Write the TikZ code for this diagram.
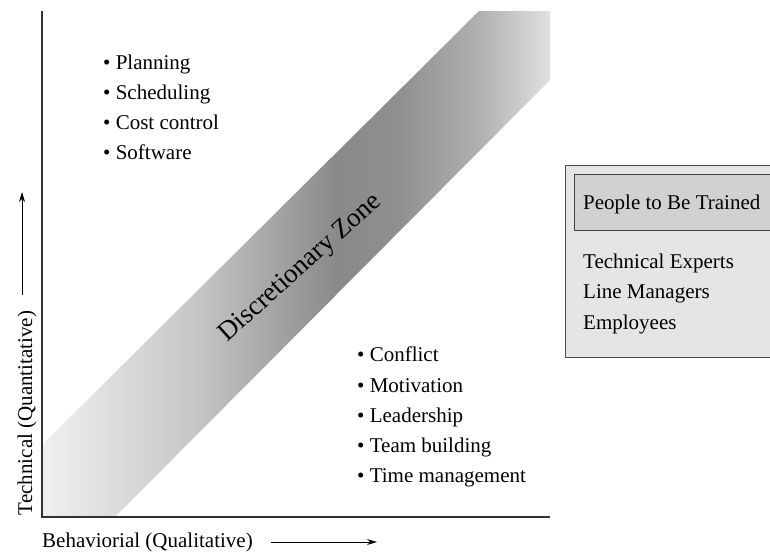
\documentclass[tikz,border=0pt]{standalone}
\usepackage{fontspec}
\setmainfont{Liberation Serif}
\usetikzlibrary{arrows.meta,positioning}

\pgfdeclarehorizontalshading{zoneshade}{100bp}{color(0bp)=(black!6); color(25bp)=(black!6); color(40bp)=(black!22); color(54bp)=(black!46); color(60bp)=(black!44); color(68bp)=(black!31); color(75bp)=(black!12); color(100bp)=(black!12)}

\begin{document}
\begin{tikzpicture}[x=1pt, y=-1pt, >={Stealth[length=10pt,width=6pt]},
  every node/.style={font=\fontsize{21}{25}\selectfont, inner sep=0pt},
  item/.style={anchor=base west},
  axis/.style={draw=black!80, line width=1.6pt},
  outerbox/.style={draw=black!70, fill=black!10, line width=1.2pt, anchor=north west},
  headbox/.style={draw=black!75, fill=black!18, line width=1.2pt, anchor=north west}]

  \useasboundingbox (0,0) rectangle (770,552);

  % ---- Discretionary band ----
  \shade[shading=zoneshade] (42,517) -- (42,445) -- (479,11) -- (550,11)
    -- (550,80) -- (115,517) -- cycle;
  \node[font=\fontsize{27}{31}\selectfont, rotate=42, anchor=base]
    (zone) at (305,273) {Discretionary Zone};

  % ---- Axes ----
  \draw[axis] (42,11) -- (42,517) -- (550,517);

  % ---- Axis labels and arrows ----
  \node[rotate=90, anchor=base] (ylabel) at (32,413) {Technical (Quantitative)};
  \node[anchor=base west] (xlabel) at (42,547) {Behaviorial (Qualitative)};
  \coordinate (ytail) at (22,295);
  \coordinate (yhead) at (22,192);
  \coordinate (xtail) at (271,542);
  \coordinate (xhead) at (377,542);
  \draw[->, line width=0.8pt] (ytail) -- (yhead);
  \draw[->, line width=0.8pt] (xtail) -- (xhead);

  % ---- Technical items ----
  \node[item] (plan)  at (103,69)  {\textbullet\ Planning};
  \node[item] (sched) at (103,99)  {\textbullet\ Scheduling};
  \node[item] (cost)  at (103,129) {\textbullet\ Cost control};
  \node[item] (soft)  at (103,159) {\textbullet\ Software};

  % ---- Behavioral items ----
  \node[item] (confl) at (357,361) {\textbullet\ Conflict};
  \node[item] (motiv) at (357,392) {\textbullet\ Motivation};
  \node[item] (lead)  at (357,422) {\textbullet\ Leadership};
  \node[item] (team)  at (357,452) {\textbullet\ Team building};
  \node[item] (time)  at (357,482) {\textbullet\ Time management};

  % ---- People to be trained ----
  \node[outerbox, minimum width=215pt, minimum height=192pt] (trainbox) at (565,165) {};
  \node[headbox, minimum width=210pt, minimum height=56pt] (trainhead) at (574,174) {};
  \node[item] (headtxt) at (583,209) {People to Be Trained};
  \node[item] (experts) at (583,268) {Technical Experts};
  \node[item] (linemgr) at (583,298) {Line Managers};
  \node[item] (employ)  at (583,329) {Employees};
\end{tikzpicture}
\end{document}
